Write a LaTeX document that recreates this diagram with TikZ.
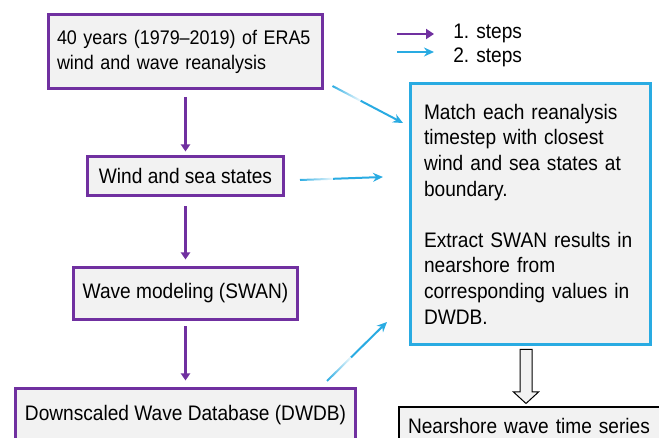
\documentclass[tikz,border=0pt]{standalone}
\usepackage{fontspec}
\setmainfont{Liberation Sans}[FakeStretch=0.91]
\usetikzlibrary{arrows.meta, positioning, calc, fadings}
\definecolor{stepone}{HTML}{7030A0}
\definecolor{steptwo}{HTML}{29ABE2}
\definecolor{boxgray}{HTML}{F2F2F2}

\begin{document}
\begin{tikzpicture}[x=1pt, y=-1pt,
  every node/.style={outer sep=0pt, font=\fontsize{21}{25.6}\selectfont},
  pbox/.style={rectangle, draw=stepone, line width=3pt, fill=boxgray, inner xsep=9pt},
  bbox/.style={rectangle, draw=steptwo, line width=3pt, fill=boxgray, align=left, inner xsep=13.5pt, text width=213pt, minimum height=261pt},
  obox/.style={rectangle, draw=black, line width=2pt, fill=boxgray, align=left, inner xsep=9pt, text width=252pt, minimum height=36pt},
  parrow/.style={-{Triangle[length=7pt,width=9pt]}, line width=3pt, draw=stepone},
  barrow/.style={-{Stealth[length=10pt,width=9pt]}, line width=2pt, draw=steptwo},
  btail/.style={line width=2pt, draw=steptwo, path fading=east}
]
\useasboundingbox (0,0) rectangle (659,438);
\clip (0,0) rectangle (659,438);

% first steps, left column
\node[pbox, anchor=north, align=left, text width=257pt, inner xsep=8.5pt, minimum height=74.5pt, font=\fontsize{19.7}{25}\selectfont] (era) at (185.5,14.5) {40 years (1979–2019) of ERA5\\wind and wave reanalysis};
\node[pbox, below=67.5pt of era, minimum width=196pt, minimum height=39pt] (ws) {Wind and sea states};
\node[pbox, below=72pt of ws, minimum width=220pt, minimum height=52pt] (swan) {Wave modeling (SWAN)};
\node[pbox, below=69pt of swan, minimum width=340pt, minimum height=54pt] (dwdb) {Downscaled Wave Database (DWDB)};

\draw[parrow, shorten <=8pt, shorten >=5pt] (era) -- (ws);
\draw[parrow, shorten <=11pt, shorten >=8pt] (ws) -- (swan);
\draw[parrow, shorten <=7pt, shorten >=8pt] (swan) -- (dwdb);

% second steps
\node[bbox, anchor=north west] (match) at (410.5,83.5) {Match each reanalysis\\timestep with closest\\wind and sea states at\\boundary.\\[25.6pt]Extract SWAN results in\\nearshore from\\corresponding values in\\DWDB.};
\node[obox, anchor=north west] (series) at (399,407.5) {Nearshore wave time series};

\coordinate (a1) at ($(era.south east)+(10,-3)$);
\coordinate (b1) at ($(match.north west)+(-7.5,39.5)$);
\coordinate (a2) at ($(ws.east)+(16.5,4)$);
\coordinate (b2) at ($(match.north west)+(-27.5,93.5)$);
\coordinate (a3) at ($(dwdb.north east)+(-28.5,-7.5)$);
\coordinate (b3) at ($(match.south west)+(-23.5,-22.5)$);
% faded tails, then the solid arrows
\foreach \i in {1,2,3} {
  \draw[btail] (a\i) -- ($(a\i)!0.42!(b\i)$);
  \draw[barrow] ($(a\i)!0.4!(b\i)$) -- (b\i);
}

% hollow arrow down to the time series
\coordinate (dn) at ($(match.south west)+(115.5,5)$);
\draw[fill=boxgray, line width=1pt, line join=miter] ($(dn)+(-6,0)$) -- ($(dn)+(6,0)$) -- ($(dn)+(6,42.5)$) -- ($(dn)+(12.5,42.5)$) -- ($(dn)+(0,54)$) -- ($(dn)+(-12.5,42.5)$) -- ($(dn)+(-6,42.5)$) -- cycle;

% legend
\node[anchor=west] (l1) at (450,33.5) {1. steps};
\node[anchor=west] (l2) at (450,57.5) {2. steps};
\coordinate (k1) at (397,34);
\coordinate (k2) at (397,52);
\draw[parrow, -{Triangle[length=8pt,width=10pt]}, line width=2.6pt, shorten >=16pt] (k1) -- (k1 -| l1.west);
\draw[barrow, line width=2.4pt, shorten >=16pt] (k2) -- (k2 -| l2.west);
\end{tikzpicture}
\end{document}
